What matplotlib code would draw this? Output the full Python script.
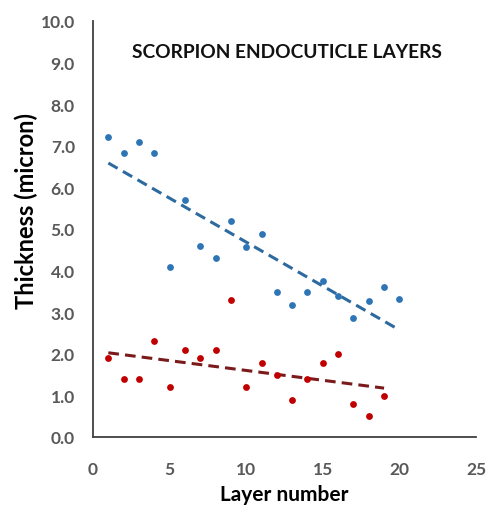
import numpy as np
import matplotlib
matplotlib.use("Agg")
import matplotlib.pyplot as plt

plt.rcParams['font.family'] = ['Lato', 'DejaVu Sans']

layers_blue = list(range(1, 21))
thick_blue = [7.20, 6.82, 7.10, 6.82, 4.08, 5.70, 4.60, 4.30, 5.20, 4.57,
              4.88, 3.48, 3.17, 3.48, 3.76, 3.38, 2.86, 3.27, 3.60, 3.32]
layers_red = list(range(1, 20))
thick_red = [1.89, 1.40, 1.40, 2.30, 1.20, 2.09, 1.89, 2.09, 3.29, 1.20,
             1.79, 1.49, 0.90, 1.40, 1.79, 1.99, 0.79, 0.50, 0.99]

title = "SCORPION ENDOCUTICLE LAYERS"
xlabel = "Layer number"
ylabel = "Thickness (micron)"

fig = plt.figure(figsize=(4.86, 5.06), dpi=100)
ax = fig.add_axes([93/486, (506-438)/506, (476-93)/486, (438-22)/506])

blue = '#2E75B6'
blue_trend = '#2D6A9F'
red = '#C00000'
red_trend = '#7B1A1A'

ax.scatter(layers_blue, thick_blue, s=24, color=blue, zorder=3, linewidths=0)
ax.scatter(layers_red, thick_red, s=24, color=red, zorder=3, linewidths=0)

for xs, ys, c in [(layers_blue, thick_blue, blue_trend), (layers_red, thick_red, red_trend)]:
    xs = np.array(xs, dtype=float)
    k, b = np.polyfit(xs, ys, 1)
    xx = np.array([xs.min(), xs.max()])
    ax.plot(xx, k * xx + b, color=c, lw=2.2, ls=(0, (3.5, 2)), zorder=2)

ax.set_xlim(0, 25)
ax.set_ylim(0, 10)
ax.set_xticks(np.arange(0, 26, 5))
ax.set_yticks(np.arange(0, 10.01, 1))
ax.set_yticklabels([f"{v:.1f}" for v in np.arange(0, 10.01, 1)])

for s in ['top', 'right']:
    ax.spines[s].set_visible(False)
for s in ['left', 'bottom']:
    ax.spines[s].set_color('#404040')
    ax.spines[s].set_linewidth(1.3)

ax.tick_params(axis='x', length=0, pad=17, labelsize=12.5, labelcolor='#595959')
ax.tick_params(axis='y', length=0, pad=13, labelsize=12.5, labelcolor='#595959')
for lbl in ax.get_xticklabels() + ax.get_yticklabels():
    lbl.set_fontweight('bold')

ax.set_xlabel(xlabel, fontsize=15, fontweight='bold', labelpad=5)
ax.set_ylabel(ylabel, fontsize=17, fontweight='bold', labelpad=2)
ax.yaxis.label.set_y(0.545)

fig.text(287/486, 1 - 53/506, title, ha='center', va='center', fontsize=13.8, fontweight='bold', color='#111111')

fig.savefig("out.png", dpi=100)
